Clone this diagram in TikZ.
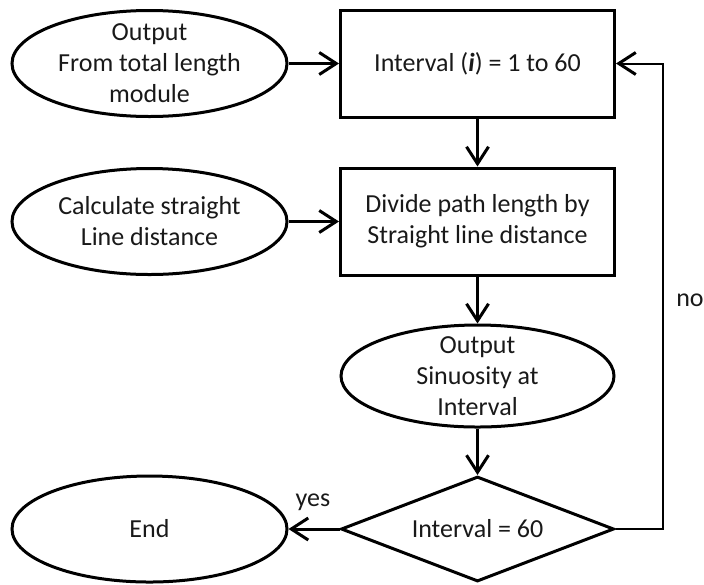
\documentclass[tikz,border=0pt]{standalone}
\usepackage{fontspec}
\setmainfont{Carlito}
\usetikzlibrary{shapes.geometric,arrows.meta}
\begin{document}
\begin{tikzpicture}[x=0.5pt,y=-0.5pt,
  every node/.style={font=\fontsize{13}{15.5}\selectfont, text=black!90},
  oval/.style={ellipse,draw,line width=1.5pt,inner sep=0pt,minimum width=137.5pt,minimum height=53pt},
  txt/.style={align=center,inner sep=0pt},
  stepbox/.style={rectangle,draw,line width=1.5pt,inner sep=0pt,align=center,minimum width=137pt,minimum height=53.5pt},
  decision/.style={diamond,draw,line width=1.5pt,inner sep=0pt,aspect=2.6,minimum width=136.5pt,minimum height=52.5pt},
  flow/.style={line width=1.5pt,-{Straight Barb[length=8.5pt,width=11pt]}},
  loopback/.style={line width=1pt,-{Straight Barb[length=8.5pt,width=11pt,line width=1.5pt]}},
  tag/.style={inner sep=0pt}
]
\useasboundingbox (0,0) rectangle (704,584);

% left column: inputs and end
\node[oval] (e1) at (149.5,63.5) {};
\node[txt] (e1t) at (e1) {Output\\From total length\\module};
\node[oval] (e2) at (149.5,221.5) {};
\node[txt] (e2t) at (e2) {Calculate straight\\Line distance};
\node[oval] (e4) at (149.5,529) {};
\node[txt] (e4t) at (e4) {End};

% main column
\node[stepbox] (b1) at (477.5,63.5) {Interval (\textbf{\textit{i}}) = 1 to 60};
\node[stepbox] (b2) at (477.5,221.5) {Divide path length by\\Straight line distance};
\node[oval,minimum width=136.5pt,minimum height=51pt] (e3) at (477.5,376) {};
\node[txt] (e3t) at (e3) {Output\\Sinuosity at\\Interval};
\node[decision] (d) at (477.5,529) {Interval = 60};

% connectors
\draw[flow] (e1) -- (b1);
\draw[flow] (b1) -- (b2);
\draw[flow] (e2) -- (b2);
\draw[flow] (b2) -- (e3);
\draw[flow] (e3) -- (d);
\draw[flow] (d.west) -- (e4);

\coordinate (c1) at (663,529);
\coordinate (c2) at (663,63.5);
\draw[loopback] (d.east) -- (c1) -- (c2) -- (b1.east);

% branch labels
\node[tag] (yes) at (313,502) {yes};
\node[tag] (no) at (690,300) {no};
\end{tikzpicture}
\end{document}
